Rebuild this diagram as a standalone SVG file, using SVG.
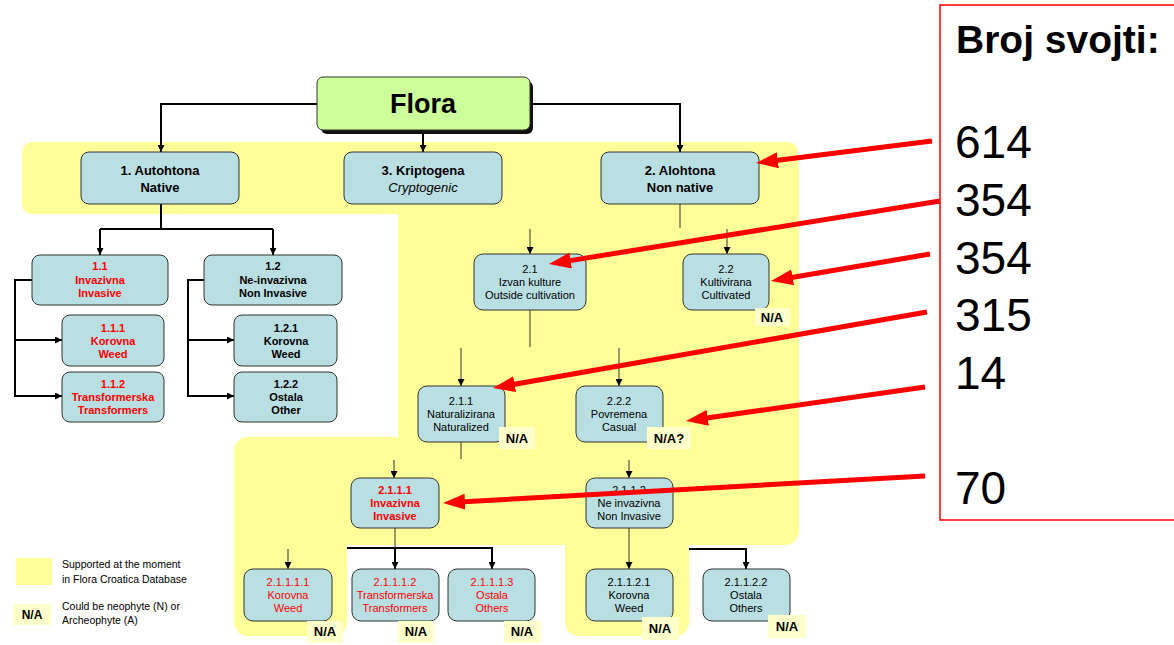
<svg xmlns="http://www.w3.org/2000/svg" width="1174" height="645" viewBox="0 0 1174 645">
<style>
text{font-family:"Liberation Sans",Arial,sans-serif;text-anchor:middle;fill:#000}
.nd{fill:#B9DFE3;stroke:#333;stroke-width:1}
.yb{fill:#FFFF99}
.na{fill:#FFFFCC}
.nat{font-size:13px;font-weight:bold}
.l1{font-size:13px;font-weight:bold}
.b11{font-size:11px;font-weight:bold}
.n11{font-size:11px}
.red{fill:#FF0000}
.ck{fill:none;stroke:#000;stroke-width:2}
.cn{fill:none;stroke:#333;stroke-width:1}
.ra{fill:none;stroke:#FF0000;stroke-width:5}
.leg{font-size:10.5px;text-anchor:start}
.num{font-size:46px;text-anchor:start}
</style>
<defs>
<marker id="ah" viewBox="0 0 8 8" refX="8" refY="4" markerWidth="7" markerHeight="7" markerUnits="userSpaceOnUse" orient="auto"><path d="M0,0 L8,4 L0,8 Z" fill="#000"/></marker>
<marker id="rah" viewBox="0 0 22 16" refX="10" refY="8" markerWidth="22" markerHeight="16" markerUnits="userSpaceOnUse" orient="auto"><path d="M0,0 L22,8 L0,16 Z" fill="#FF0000"/></marker>
</defs>
<rect width="1174" height="645" fill="#fff"/>
<g id="support-area">
<rect class="yb" x="22" y="142" width="776" height="72" rx="10"/>
<rect class="yb" x="398" y="142" width="401" height="403" rx="24"/>
<rect class="yb" x="234" y="437" width="565" height="108" rx="14"/>
<rect class="yb" x="234" y="470" width="113" height="166" rx="14"/>
<rect class="yb" x="565" y="470" width="124" height="166" rx="14"/>
</g>
<g id="connectors">
<path class="ck" d="M317,104 H161 V152" marker-end="url(#ah)"/>
<path class="ck" d="M530,104 H680 V152" marker-end="url(#ah)"/>
<path class="ck" d="M423,132 V152" marker-end="url(#ah)"/>
<path class="ck" d="M161,204 V229 M100,229 H273"/>
<path class="ck" d="M100,229 V255" marker-end="url(#ah)"/>
<path class="ck" d="M273,229 V255" marker-end="url(#ah)"/>
<path class="ck" d="M32,280 H15 V396 H62" marker-end="url(#ah)"/>
<path class="ck" d="M15,340 H62" marker-end="url(#ah)"/>
<path class="ck" d="M204,280 H188 V396 H234" marker-end="url(#ah)"/>
<path class="ck" d="M188,340 H234" marker-end="url(#ah)"/>
<path class="cn" d="M680,204 V228"/>
<path class="cn" d="M530,229 V254" marker-end="url(#ah)"/>
<path class="cn" d="M727,229 V254" marker-end="url(#ah)"/>
<path class="cn" d="M530,310 V347"/>
<path class="cn" d="M461,348 V386" marker-end="url(#ah)"/>
<path class="cn" d="M619,348 V386" marker-end="url(#ah)"/>
<path class="cn" d="M461,442 V459"/>
<path class="cn" d="M394,460 V478" marker-end="url(#ah)"/>
<path class="cn" d="M629,460 V478" marker-end="url(#ah)"/>
<path class="cn" d="M395,528 V548"/>
<path class="ck" d="M347,548 H492 V569" marker-end="url(#ah)"/>
<path class="ck" d="M395,548 V569" marker-end="url(#ah)"/>
<path class="cn" d="M288,549 V569" marker-end="url(#ah)"/>
<path class="cn" d="M629,528 V569" marker-end="url(#ah)"/>
<path class="ck" d="M689,549 H746 V569" marker-end="url(#ah)"/>
</g>
<g id="flora">
<rect x="321" y="81" width="212" height="53" rx="6" fill="#111"/>
<rect x="317" y="77" width="213" height="53" rx="6" fill="#CCFF99" stroke="#333" stroke-width="1"/>
<text x="423" y="113" style="font-size:27px;font-weight:bold">Flora</text>
</g>
<g id="n1">
<rect class="nd" x="81" y="152" width="158" height="52" rx="8"/>
<text class="l1" x="160" y="175">1. Autohtona</text>
<text class="l1" x="160" y="192">Native</text>
</g>
<g id="n3">
<rect class="nd" x="344" y="152" width="158" height="52" rx="8"/>
<text class="l1" x="423" y="175">3. Kriptogena</text>
<text x="423" y="192" style="font-size:13px;font-style:italic">Cryptogenic</text>
</g>
<g id="n2">
<rect class="nd" x="601" y="152" width="158" height="52" rx="8"/>
<text class="l1" x="680" y="175">2. Alohtona</text>
<text class="l1" x="680" y="192">Non native</text>
</g>
<g id="n1-1">
<rect class="nd" x="32" y="255" width="136" height="50" rx="8"/>
<text class="b11 red" x="100" y="270">1.1</text>
<text class="b11 red" x="100" y="284">Invazivna</text>
<text class="b11 red" x="100" y="297">Invasive</text>
</g>
<g id="n1-2">
<rect class="nd" x="204" y="255" width="138" height="50" rx="8"/>
<text class="b11" x="273" y="270">1.2</text>
<text class="b11" x="273" y="284">Ne-invazivna</text>
<text class="b11" x="273" y="297">Non Invasive</text>
</g>
<g id="n1-1-1">
<rect class="nd" x="62" y="315" width="102" height="51" rx="8"/>
<text class="b11 red" x="113" y="332">1.1.1</text>
<text class="b11 red" x="113" y="345">Korovna</text>
<text class="b11 red" x="113" y="358">Weed</text>
</g>
<g id="n1-1-2">
<rect class="nd" x="62" y="372" width="102" height="50" rx="8"/>
<text class="b11 red" x="113" y="388">1.1.2</text>
<text class="b11 red" x="113" y="401">Transformerska</text>
<text class="b11 red" x="113" y="414">Transformers</text>
</g>
<g id="n1-2-1">
<rect class="nd" x="234" y="315" width="103" height="51" rx="8"/>
<text class="b11" x="286" y="332">1.2.1</text>
<text class="b11" x="286" y="345">Korovna</text>
<text class="b11" x="286" y="358">Weed</text>
</g>
<g id="n1-2-2">
<rect class="nd" x="234" y="372" width="103" height="50" rx="8"/>
<text class="b11" x="286" y="388">1.2.2</text>
<text class="b11" x="286" y="401">Ostala</text>
<text class="b11" x="286" y="414">Other</text>
</g>
<g id="n2-1">
<rect class="nd" x="474" y="254" width="112" height="56" rx="9"/>
<text class="n11" x="530" y="273">2.1</text>
<text class="n11" x="530" y="286">Izvan kulture</text>
<text class="n11" x="530" y="299">Outside cultivation</text>
</g>
<g id="n2-2">
<rect class="nd" x="683" y="254" width="86" height="56" rx="9"/>
<text class="n11" x="726" y="273">2.2</text>
<text class="n11" x="726" y="286">Kultivirana</text>
<text class="n11" x="726" y="299">Cultivated</text>
<rect class="na" x="755" y="308" width="35" height="18"/>
<text class="nat" x="772" y="322">N/A</text>
</g>
<g id="n2-1-1">
<rect class="nd" x="418" y="386" width="87" height="56" rx="9"/>
<text class="n11" x="461" y="405">2.1.1</text>
<text class="n11" x="461" y="418">Naturalizirana</text>
<text class="n11" x="461" y="431">Naturalized</text>
<rect class="na" x="499" y="427" width="36" height="22"/>
<text class="nat" x="517" y="443">N/A</text>
</g>
<g id="n2-2-2">
<rect class="nd" x="576" y="386" width="87" height="56" rx="9"/>
<text class="n11" x="619" y="405">2.2.2</text>
<text class="n11" x="619" y="418">Povremena</text>
<text class="n11" x="619" y="431">Casual</text>
<rect class="na" x="647" y="427" width="44" height="22"/>
<text class="nat" x="669" y="443">N/A?</text>
</g>
<g id="n2-1-1-1">
<rect class="nd" x="351" y="478" width="88" height="50" rx="9"/>
<text class="b11 red" x="395" y="494">2.1.1.1</text>
<text class="b11 red" x="395" y="507">Invazivna</text>
<text class="b11 red" x="395" y="520">Invasive</text>
</g>
<g id="n2-1-1-2">
<rect class="nd" x="586" y="478" width="87" height="50" rx="9"/>
<text class="n11" x="629" y="494">2.1.1.2</text>
<text class="n11" x="629" y="507">Ne invazivna</text>
<text class="n11" x="629" y="520">Non Invasive</text>
</g>
<g id="n2-1-1-1-1">
<rect class="nd" x="244" y="569" width="88" height="52" rx="9"/>
<text class="n11 red" x="288" y="586">2.1.1.1.1</text>
<text class="n11 red" x="288" y="599">Korovna</text>
<text class="n11 red" x="288" y="612">Weed</text>
<rect class="na" x="307" y="621" width="36" height="22"/>
<text class="nat" x="325" y="636">N/A</text>
</g>
<g id="n2-1-1-1-2">
<rect class="nd" x="352" y="569" width="87" height="52" rx="9"/>
<text class="n11 red" x="395" y="586">2.1.1.1.2</text>
<text class="n11 red" x="395" y="599">Transformerska</text>
<text class="n11 red" x="395" y="612">Transformers</text>
<rect class="na" x="398" y="621" width="36" height="22"/>
<text class="nat" x="416" y="636">N/A</text>
</g>
<g id="n2-1-1-1-3">
<rect class="nd" x="448" y="569" width="87" height="52" rx="9"/>
<text class="n11 red" x="492" y="586">2.1.1.1.3</text>
<text class="n11 red" x="492" y="599">Ostala</text>
<text class="n11 red" x="492" y="612">Others</text>
<rect class="na" x="504" y="621" width="37" height="22"/>
<text class="nat" x="522" y="636">N/A</text>
</g>
<g id="n2-1-1-2-1">
<rect class="nd" x="586" y="569" width="87" height="52" rx="9"/>
<text class="n11" x="629" y="586">2.1.1.2.1</text>
<text class="n11" x="629" y="599">Korovna</text>
<text class="n11" x="629" y="612">Weed</text>
<rect class="na" x="642" y="617" width="37" height="23"/>
<text class="nat" x="660" y="633">N/A</text>
</g>
<g id="n2-1-1-2-2">
<rect class="nd" x="703" y="569" width="87" height="52" rx="9"/>
<text class="n11" x="746" y="586">2.1.1.2.2</text>
<text class="n11" x="746" y="599">Ostala</text>
<text class="n11" x="746" y="612">Others</text>
<rect class="na" x="768" y="615" width="38" height="23"/>
<text class="nat" x="787" y="631">N/A</text>
</g>
<g id="legend">
<rect class="yb" x="16" y="558" width="36" height="27"/>
<text class="leg" x="62" y="568">Supported at the moment</text>
<text class="leg" x="62" y="583">in Flora Croatica Database</text>
<rect class="na" x="13" y="604" width="38" height="21"/>
<text x="32" y="619" style="font-size:12px;font-weight:bold">N/A</text>
<text class="leg" x="62" y="610">Could be neophyte (N) or</text>
<text class="leg" x="62" y="624">Archeophyte (A)</text>
</g>
<g id="counts">
<rect x="940" y="5" width="250" height="515" fill="#fff" stroke="#FF0000" stroke-width="1.5"/>
<text x="956" y="53" style="font-size:39px;font-weight:bold;text-anchor:start">Broj svojti:</text>
<text class="num" x="955" y="158">614</text>
<text class="num" x="955" y="216">354</text>
<text class="num" x="955" y="274">354</text>
<text class="num" x="955" y="331">315</text>
<text class="num" x="955" y="389">14</text>
<text class="num" x="955" y="504">70</text>
</g>
<g id="count-arrows">
<path class="ra" d="M932,141 L767.9,161.5" marker-end="url(#rah)"/>
<path class="ra" d="M940,201 L560.8,262.1" marker-end="url(#rah)"/>
<path class="ra" d="M930,254 L782.8,279" marker-end="url(#rah)"/>
<path class="ra" d="M927,312 L504.8,385.9" marker-end="url(#rah)"/>
<path class="ra" d="M925,387 L697.9,419.3" marker-end="url(#rah)"/>
<path class="ra" d="M925,476 L455,502.3" marker-end="url(#rah)"/>
</g>
</svg>
